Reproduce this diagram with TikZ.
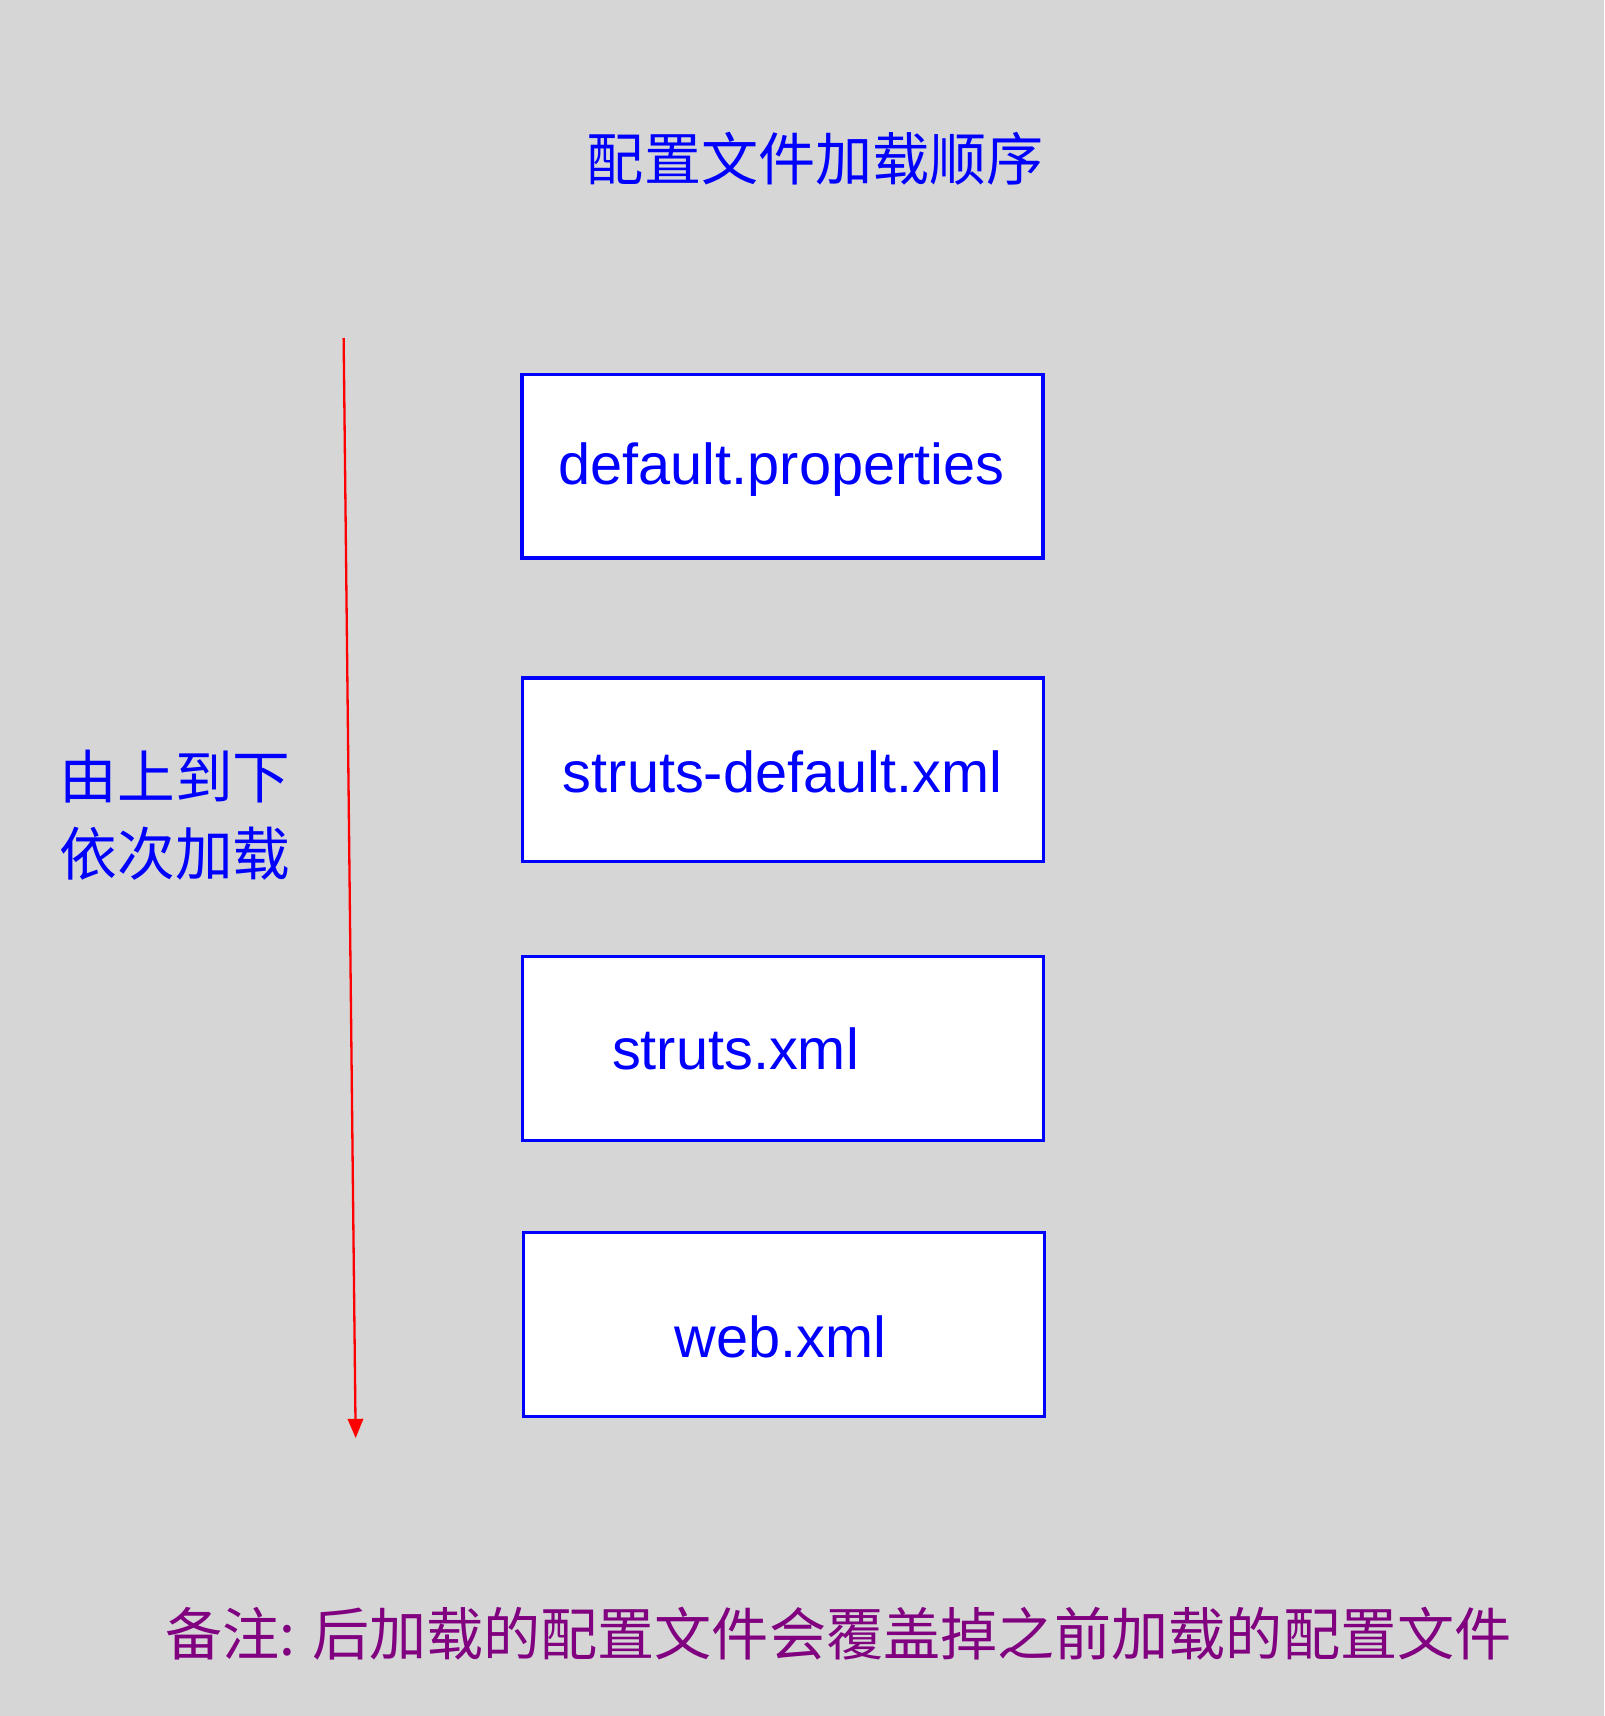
\documentclass[tikz,border=0pt]{standalone}
\usepackage{fontspec}
\setmainfont{Liberation Sans}
\newfontfamily\cjk{Noto Sans CJK SC}
\usetikzlibrary{arrows.meta}
\definecolor{bggray}{HTML}{D6D6D6}
\definecolor{notepurple}{HTML}{800080}
\tikzset{%
  filebox/.style={draw=blue, fill=white, line width=1.7pt, minimum width=9.52cm, minimum height=3.36cm},
  filetext/.style={text=blue, font=\fontsize{30}{36}\selectfont},
  cjktext/.style={text=blue, font=\cjk\fontsize{29.7}{36}\selectfont},
  orderedge/.style={-{Triangle[length=10pt,width=8pt]}, red, line width=1.2pt}
}
\begin{document}
\begin{tikzpicture}[x=0.02cm, y=-0.02cm]
  \fill[bggray] (0,0) rectangle (1466,1568);
  \useasboundingbox (0,0) rectangle (1466,1568);
  \node[cjktext] (title) at (745,145) {配置文件加载顺序};
  \node[filebox] (b1) at (715,426) {};
  \node[filebox] (b2) at (715.5,703.5) {};
  \node[filebox] (b3) at (715.5,958) {};
  \node[filebox] (b4) at (716.5,1210.5) {};
  \node[filetext] (t1) at (714,429) {default.properties};
  \node[filetext] (t2) at (715,705) {struts-default.xml};
  \node[filetext] (t3) at (672,958) {struts.xml};
  \node[filetext] (t4) at (713,1222) {web.xml};
  \coordinate (top) at (314,309);
  \coordinate (bot) at (325,1314);
  \draw[orderedge] (top) -- (bot);
  \node[cjktext, align=left, font=\cjk\fontsize{30}{40}\selectfont] (order) at (160,745) {由上到下\\依次加载};
  \node[cjktext, text=notepurple] (note) at (766,1493) {备注: 后加载的配置文件会覆盖掉之前加载的配置文件};
\end{tikzpicture}
\end{document}
